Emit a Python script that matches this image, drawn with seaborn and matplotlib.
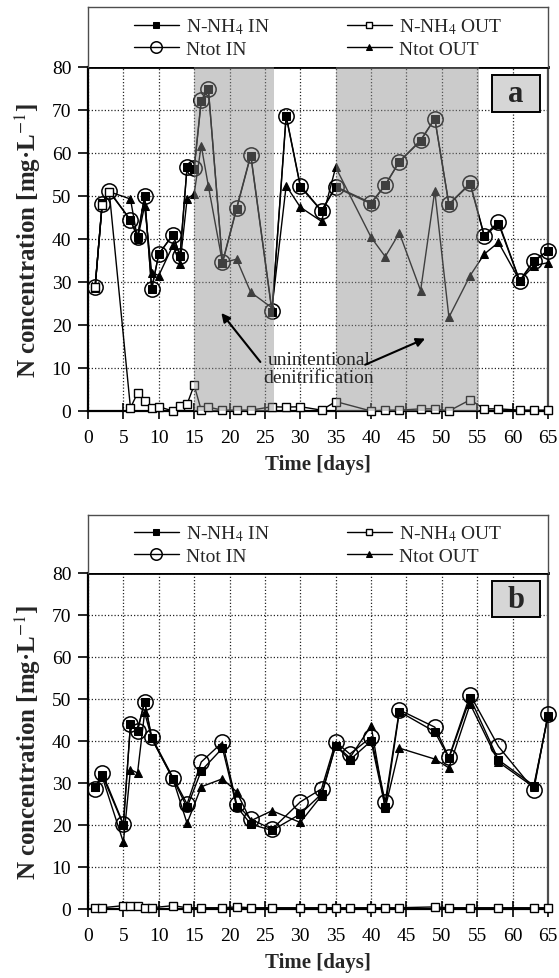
import numpy as np
import pandas as pd
import matplotlib
matplotlib.use("Agg")
import matplotlib.pyplot as plt
from matplotlib.patches import Rectangle
import seaborn as sns

# ---------------- data: panel a ----------------
days_a = [1, 2, 3, 6, 7, 8, 9, 10, 12, 13, 14, 15, 16, 17, 19, 21, 23, 26, 28, 30,
          33, 35, 40, 42, 44, 47, 49, 51, 54, 56, 58, 61, 63, 65]
nh4_in_a = [28.6, 48.3, 51.0, 44.4, 40.5, 50.0, 28.4, 36.5, 41.0, 36.1, 56.7, 56.3, 72.0, 75.0,
            34.4, 47.0, 59.4, 23.0, 68.5, 52.2, 46.5, 52.0, 48.2, 52.5, 58.0, 62.8, 68.0, 48.0,
            52.8, 40.6, 43.6, 30.2, 34.8, 37.2]
ntot_in_a = [28.8, 48.1, 51.2, 44.4, 40.5, 50.0, 28.4, 36.5, 41.0, 36.1, 56.8, 56.5, 72.3, 75.0,
             34.6, 47.2, 59.6, 23.3, 68.7, 52.4, 46.6, 52.2, 48.4, 52.6, 58.0, 63.0, 68.0, 48.1,
             53.0, 40.8, 44.0, 30.3, 35.0, 37.3]
ntot_out_a = [28.8, 48.0, 51.0, 49.3, 40.0, 47.7, 32.2, 31.5, 38.5, 34.2, 49.3, 50.5, 61.7, 52.4,
              34.5, 35.3, 27.6, 24.0, 52.4, 47.4, 44.1, 56.7, 40.4, 35.9, 41.4, 28.0, 51.2, 21.8,
              31.5, 36.5, 39.2, 30.3, 33.8, 34.5]
nh4_out_a = [28.8, 48.0, 51.0, 0.7, 4.2, 2.4, 0.6, 1.0, 0.0, 1.2, 1.6, 6.0, 0.2, 0.9,
             0.2, 0.2, 0.2, 1.0, 0.9, 1.0, 0.2, 2.2, 0.0, 0.2, 0.2, 0.5, 0.5, 0.0,
             2.6, 0.5, 0.5, 0.2, 0.2, 0.2]

# ---------------- data: panel b ----------------
days_b = [1, 2, 5, 6, 7, 8, 9, 12, 14, 16, 19, 21, 23, 26, 30, 33, 35, 37, 40, 42, 44,
          49, 51, 54, 58, 63, 65]
nh4_in_b = [29.0, 31.9, 20.0, 44.0, 42.5, 49.4, 40.6, 31.0, 24.2, 32.9, 38.3, 24.4, 20.2, 18.7,
            22.6, 27.4, 38.9, 35.5, 40.0, 24.2, 47.0, 42.2, 35.9, 50.2, 35.5, 29.4, 45.9]
ntot_in_b = [28.6, 32.5, 20.2, 44.0, 42.5, 49.4, 40.9, 31.3, 25.0, 35.0, 39.7, 25.0, 21.4, 19.0,
             25.5, 28.6, 39.8, 36.9, 40.9, 25.5, 47.4, 43.3, 36.1, 51.0, 38.7, 28.4, 46.4]
ntot_out_b = [29.0, 31.5, 15.9, 33.2, 32.4, 46.8, 40.6, 31.0, 20.4, 29.1, 31.0, 27.9, 21.0, 23.4,
              20.6, 27.0, 39.0, 36.0, 43.6, 24.0, 38.3, 35.7, 33.6, 48.8, 35.0, 29.0, 46.0]
nh4_out_b = [0.3, 0.3, 0.8, 0.6, 0.6, 0.3, 0.3, 0.8, 0.3, 0.3, 0.3, 0.5, 0.3, 0.3, 0.3, 0.3,
             0.3, 0.3, 0.3, 0.3, 0.3, 0.5, 0.3, 0.3, 0.3, 0.3, 0.3]

labels = ["N-NH$_4$ IN", "Ntot IN", "N-NH$_4$ OUT", "Ntot OUT"]
x_ticks = list(range(0, 66, 5))
y_ticks = list(range(0, 81, 10))
shade_periods = [(15, 26.3), (35, 55.3)]

# ---------------- style ----------------
sns.set_theme(style="ticks")
plt.rcParams["font.family"] = ["Liberation Serif", "DejaVu Serif"]
plt.rcParams["mathtext.fontset"] = "stix"

W, H = 559, 979
fig = plt.figure(figsize=(W / 100, H / 100), dpi=100)
L, R = 88 / W, 548 / W


def fy(y):
    return 1 - y / H


def draw_panel(ax, legax, days, nh4_in, ntot_in, nh4_out, ntot_out, letter):
    # Ntot IN (open circles)
    sns.lineplot(x=days, y=ntot_in, ax=ax, color="black", lw=1.0, marker="o", ms=11,
                 markerfacecolor="none", markeredgecolor="black", markeredgewidth=1.1,
                 errorbar=None, legend=False, zorder=3, clip_on=False)
    h_ntot_in = ax.lines[-1]
    # N-NH4 IN (filled squares)
    sns.lineplot(x=days, y=nh4_in, ax=ax, color="black", lw=1.0, marker="s", ms=5.2,
                 markerfacecolor="black", markeredgecolor="black",
                 errorbar=None, legend=False, zorder=3, clip_on=False)
    h_nh4_in = ax.lines[-1]
    # Ntot OUT (filled triangles)
    sns.lineplot(x=days, y=ntot_out, ax=ax, color="black", lw=1.0, marker="^", ms=6.2,
                 markerfacecolor="black", markeredgecolor="black",
                 errorbar=None, legend=False, zorder=3, clip_on=False)
    h_ntot_out = ax.lines[-1]
    # N-NH4 OUT (open squares)
    sns.lineplot(x=days, y=nh4_out, ax=ax, color="black", lw=1.0, marker="s", ms=5.8,
                 markerfacecolor="white", markeredgecolor="black", markeredgewidth=1.0,
                 errorbar=None, legend=False, zorder=3, clip_on=False)
    h_nh4_out = ax.lines[-1]

    ax.set_xlim(0, 65)
    ax.set_ylim(0, 80)
    ax.set_xticks(x_ticks)
    ax.set_yticks(y_ticks)
    ax.grid(True, color="0.15", linestyle=(0, (1, 1.6)), linewidth=0.9)
    ax.set_axisbelow(True)
    ax.tick_params(axis="y", direction="out", length=7, width=1.2, labelsize=14, pad=5,
                   colors="black")
    ax.tick_params(axis="x", direction="inout", length=12, width=1.2, labelsize=14, pad=7,
                   colors="black")
    for s in ["left", "bottom"]:
        ax.spines[s].set_linewidth(1.6)
        ax.spines[s].set_color("black")
    ax.spines["top"].set_linewidth(2.0)
    ax.spines["top"].set_color("black")
    ax.spines["right"].set_linewidth(1.6)
    ax.spines["right"].set_color("0.3")
    ax.set_xlabel("Time [days]", fontsize=15, fontweight="bold", labelpad=6)
    ax.set_ylabel("N concentration [mg·L$^{-1}$]", fontsize=18,
                  fontweight="bold", labelpad=6)

    # letter box
    ax.add_patch(Rectangle((0.878, 0.869), 0.104, 0.108, transform=ax.transAxes,
                           facecolor="#d6d6d6", edgecolor="black", lw=1.4, zorder=8))
    ax.text(0.930, 0.922, letter, transform=ax.transAxes, ha="center", va="center",
            fontsize=22, fontweight="bold", zorder=9)

    # legend box
    legax.set_xticks([])
    legax.set_yticks([])
    legax.set_facecolor("white")
    for s in ["left", "right", "top"]:
        legax.spines[s].set_linewidth(1.0)
        legax.spines[s].set_color("0.3")
    legax.spines["bottom"].set_visible(False)
    legax.legend([h_nh4_in, h_ntot_in, h_nh4_out, h_ntot_out], labels, ncol=2,
                 loc="center", bbox_to_anchor=(0.5, 0.5), frameon=False, fontsize=14,
                 handlelength=2.3, handletextpad=0.35, columnspacing=4.0,
                 labelspacing=0.2, markerscale=0.75, borderpad=0)


axA = fig.add_axes([L, fy(412), R - L, fy(68) - fy(412)])
legA = fig.add_axes([L, fy(68), R - L, fy(8) - fy(68)])
axB = fig.add_axes([L, fy(910), R - L, fy(574) - fy(910)])
legB = fig.add_axes([L, fy(574), R - L, fy(516) - fy(574)])

draw_panel(axA, legA, days_a, nh4_in_a, ntot_in_a, nh4_out_a, ntot_out_a, "a")
draw_panel(axB, legB, days_b, nh4_in_b, ntot_in_b, nh4_out_b, ntot_out_b, "b")

# shaded periods (drawn over the data, greying it)
for (x0, x1) in shade_periods:
    axA.axvspan(x0, x1, facecolor="0.55", alpha=0.45, lw=0, zorder=5)

axA.text(32.6, 9.9, "unintentional\ndenitrification", ha="center", va="center",
         fontsize=14, linespacing=1.1, zorder=7)
axA.annotate("", xy=(18.6, 23.3), xytext=(24.6, 10.9),
             arrowprops=dict(arrowstyle="-|>", color="black", lw=1.5,
                             mutation_scale=13), zorder=7)
axA.annotate("", xy=(48.0, 17.1), xytext=(38.8, 10.5),
             arrowprops=dict(arrowstyle="-|>", color="black", lw=1.5,
                             mutation_scale=13), zorder=7)

fig.savefig("out.png", dpi=100)
